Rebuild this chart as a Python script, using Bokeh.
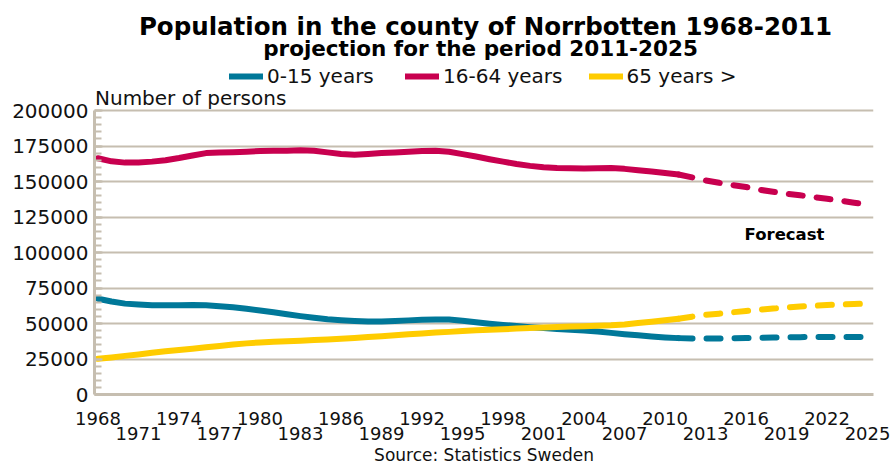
from bokeh.plotting import figure
from bokeh.models import (Range1d, LinearAxis, FixedTicker, BasicTickFormatter,
                          Label, Legend, LegendItem, Title)
from bokeh.embed import file_html
from bokeh.resources import INLINE

# ---------------- data ----------------
years = list(range(1968, 2026))
forecast_start = 2011

age_0_15 = [67400, 65500, 64000, 63300, 62800, 62800, 62900, 63100, 62800, 62200,
            61400, 60400, 59200, 57900, 56500, 55200, 54000, 53000, 52300, 51800,
            51400, 51400, 51700, 52200, 52600, 52900, 52800, 52000, 50900, 49900,
            49000, 48200, 47400, 46800, 46200, 45600, 45000, 44300, 43400, 42500,
            41700, 40900, 40200, 39700, 39400, 39400, 39400, 39600, 39800, 40000,
            40100, 40300, 40400, 40500, 40500, 40500, 40500, 40500]
age_16_64 = [166400, 164200, 163300, 163400, 164000, 165000, 166500, 168300, 170000, 170400,
             170600, 171000, 171500, 171600, 171700, 172000, 171600, 170500, 169300, 168800,
             169300, 170000, 170500, 171000, 171400, 171600, 170900, 169300, 167600, 165700,
             164000, 162300, 161000, 160000, 159500, 159300, 159200, 159300, 159500, 158900,
             158000, 157000, 156000, 154900, 152900, 150800, 149100, 147400, 146100, 144200,
             142800, 141400, 140300, 139000, 137800, 136500, 135100, 133800]
age_65 = [25100, 26100, 27200, 28200, 29400, 30400, 31300, 32200, 33200, 34200,
          35200, 36000, 36700, 37100, 37500, 37900, 38300, 38800, 39300, 39800,
          40500, 41100, 41800, 42400, 43000, 43600, 44100, 44700, 45200, 45600,
          46000, 46400, 46800, 47200, 47600, 47900, 48100, 48400, 48700, 49300,
          50300, 51300, 52300, 53400, 54800, 56100, 56900, 57900, 58800, 59700,
          60500, 61200, 61900, 62500, 63000, 63400, 63700, 64000]

series_names = ["0-15 years", "16-64 years", "65 years >"]
x_ticks_row1 = list(range(1968, 2026, 6))
x_ticks_row2 = list(range(1971, 2026, 6))
y_max = 200000
y_ticks = list(range(0, y_max + 1, 25000))
y_minor_ticks = list(range(0, y_max + 1, 5000))

title_text = "Population in the county of Norrbotten 1968-2011"
subtitle_text = "projection for the period 2011-2025"
y_title_text = "Number of persons"
forecast_text = "Forecast"
source_text = "Source: Statistics Sweden"

# ---------------- styling / layout ----------------
COLORS = ["#007899", "#c8004f", "#ffcc00"]
GRID = "#c6beb0"
FONT = "DejaVu Sans"
TXT = "#111111"
W, H = 894, 464
GRID_TOP = 110                     # pixel row of the top gridline
FL, FT, FW, FH = 94, 0, 779, 394   # frame reaches up to the page top
X0, X1 = 1967.74, 2025.44
Y0 = 0
Y1 = y_max * (FH - FT) / (FH - GRID_TOP)


def sx(px):
    return X0 + (px - FL) * (X1 - X0) / FW


def sy(py):
    return Y1 - (py - FT) * (Y1 - Y0) / FH


p = figure(width=W, height=H, output_backend="svg", toolbar_location=None,
           x_range=Range1d(X0, X1), y_range=Range1d(Y0, Y1),
           min_border_left=FL, min_border_right=W - FL - FW,
           min_border_top=FT, min_border_bottom=H - FT - FH)
p.outline_line_color = None
p.background_fill_color = "white"
p.border_fill_color = "white"

# y axis
p.yaxis.ticker = FixedTicker(ticks=y_ticks, minor_ticks=y_minor_ticks)
p.yaxis.bounds = (0, y_max)
p.yaxis.formatter = BasicTickFormatter(use_scientific=False)
p.yaxis.axis_line_color = GRID
p.yaxis.axis_line_width = 3
p.yaxis.major_tick_in = 8
p.yaxis.major_tick_out = 0
p.yaxis.major_tick_line_color = GRID
p.yaxis.major_tick_line_width = 2
p.yaxis.minor_tick_in = 7
p.yaxis.minor_tick_out = 0
p.yaxis.minor_tick_line_color = GRID
p.yaxis.minor_tick_line_width = 2
p.yaxis.major_label_standoff = 6
p.yaxis.major_label_text_font = FONT
p.yaxis.major_label_text_font_size = "20px"
p.yaxis.major_label_text_color = TXT

p.ygrid.grid_line_color = GRID
p.ygrid.grid_line_width = 2
p.xgrid.grid_line_color = None

# x axis, row 1
p.xaxis.ticker = FixedTicker(ticks=x_ticks_row1)
p.xaxis.axis_line_color = GRID
p.xaxis.axis_line_width = 3
p.xaxis.major_tick_line_color = None
p.xaxis.minor_tick_line_color = None
p.xaxis.major_label_standoff = 11
p.xaxis.major_label_text_font = FONT
p.xaxis.major_label_text_font_size = "18px"
p.xaxis.major_label_text_color = TXT

# x axis, row 2
ax2 = LinearAxis(ticker=FixedTicker(ticks=x_ticks_row2),
                 axis_line_color=None, major_tick_line_color=None,
                 minor_tick_line_color=None, major_label_standoff=-7,
                 major_label_text_font=FONT, major_label_text_font_size="18px",
                 major_label_text_color=TXT)
p.add_layout(ax2, "below")

# source line under the axes
p.add_layout(Title(text=source_text, align="center", text_font=FONT,
                   text_font_size="17px", text_font_style="normal",
                   text_color=TXT, standoff=0), "below")

# lines
idx = years.index(forecast_start)
items = []
for name, vals, col in zip(series_names, [age_0_15, age_16_64, age_65], COLORS):
    r = p.line(years[:idx + 1], vals[:idx + 1], line_width=6, line_color=col,
               line_cap="round", line_join="round")
    p.line(years[idx:], vals[idx:], line_width=6, line_color=col,
           line_cap="round", line_join="round", line_dash="14 14")
    items.append(LegendItem(label=name, renderers=[r]))

legend = Legend(items=items, orientation="horizontal",
                location=(229 - FL, FH - 88),
                background_fill_alpha=0, border_line_color=None,
                glyph_width=34, glyph_height=20, label_standoff=4, spacing=26,
                padding=0, margin=0, label_width=112,
                label_text_font=FONT, label_text_font_size="20px",
                label_text_color=TXT)
p.add_layout(legend)

# texts
p.add_layout(Label(x=sx(485), y=sy(25.5), text=title_text, text_align="center",
                   text_baseline="middle", text_font=FONT, text_font_style="bold",
                   text_font_size="24.5px", text_color="#000000"))
p.add_layout(Label(x=sx(480), y=sy(48), text=subtitle_text, text_align="center",
                   text_baseline="middle", text_font=FONT, text_font_style="bold",
                   text_font_size="21.5px", text_color="#000000"))
p.add_layout(Label(x=sx(94.5), y=sy(97), text=y_title_text, text_align="left",
                   text_baseline="middle", text_font=FONT,
                   text_font_size="20px", text_color=TXT))
p.add_layout(Label(x=sx(784), y=sy(234), text=forecast_text, text_align="center",
                   text_baseline="middle", text_font=FONT, text_font_style="bold",
                   text_font_size="16.5px", text_color="#000000"))

open("out.html", "w").write(file_html(p, INLINE))
